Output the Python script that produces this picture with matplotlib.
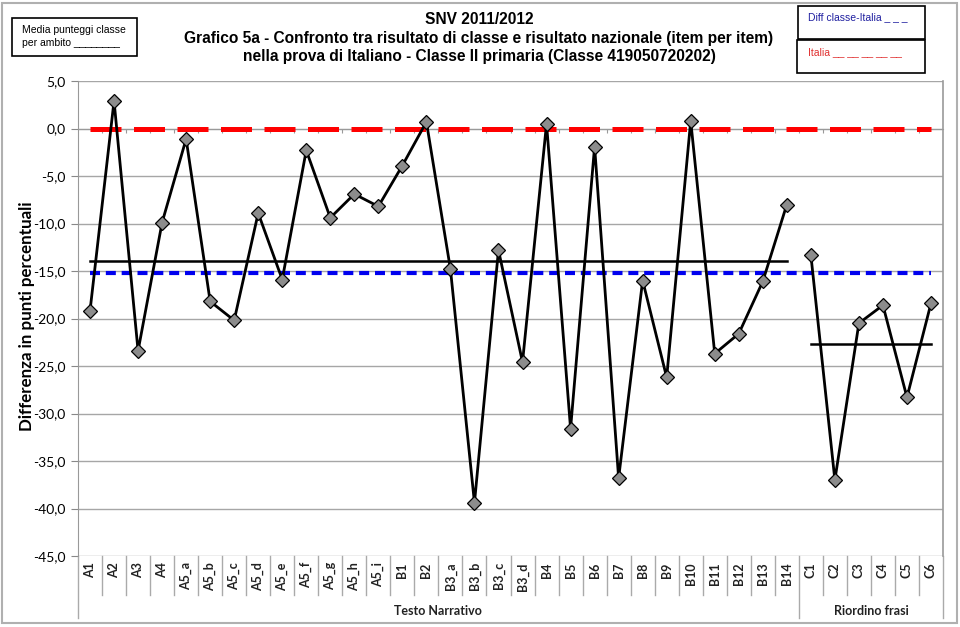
import numpy as np
import matplotlib.pyplot as plt
from matplotlib.patches import Rectangle

# item del test
items_a = ['A1', 'A2', 'A3', 'A4', 'A5_a', 'A5_b', 'A5_c', 'A5_d', 'A5_e', 'A5_f',
           'A5_g', 'A5_h', 'A5_i', 'B1', 'B2', 'B3_a', 'B3_b', 'B3_c', 'B3_d', 'B4',
           'B5', 'B6', 'B7', 'B8', 'B9', 'B10', 'B11', 'B12', 'B13', 'B14']
items_c = ['C1', 'C2', 'C3', 'C4', 'C5', 'C6']
items = items_a + items_c

# differenza classe - Italia per item
diff_a = [-19.2, 2.9, -23.4, -9.9, -1.1, -18.2, -20.2, -8.9, -15.9, -2.3,
          -9.4, -6.9, -8.2, -3.9, 0.7, -14.8, -39.4, -12.8, -24.6, 0.5,
          -31.6, -1.9, -36.8, -16.0, -26.2, 0.8, -23.7, -21.6, -16.1, -8.0]
diff_c = [-13.3, -37.0, -20.5, -18.6, -28.3, -18.4]

# media per ambito, media complessiva, riferimento Italia
media_ambito = [-13.9, -22.7]
ambiti = ['Testo Narrativo', 'Riordino frasi']
media_diff = -15.2
italia = 0.0

yticks = [5, 0, -5, -10, -15, -20, -25, -30, -35, -40, -45]

lab_font = ['Lato', 'DejaVu Sans']
arial = ['Liberation Sans', 'DejaVu Sans']

fig = plt.figure(figsize=(9.6, 6.27), dpi=100)
ax = fig.add_axes([78 / 960, 1 - 556 / 627, 865 / 960, 475 / 627])

x = np.arange(len(items))
xa = x[:len(items_a)]
xc = x[len(items_a):]

# linee di riferimento
ax.plot([x[0], x[-1]], [italia, italia], color='#ff0000', lw=3.6,
        linestyle=(0, (6.2, 2.5)), zorder=3)
ax.plot([x[0], x[-1]], [media_diff, media_diff], color='#0000ee', lw=3.0,
        linestyle=(0, (2.4, 1.4)), zorder=3)

# media per ambito
ax.plot([xa[0], xa[-1]], [media_ambito[0]] * 2, color='black', lw=1.8, zorder=4)
ax.plot([xc[0], xc[-1]], [media_ambito[1]] * 2, color='black', lw=1.8, zorder=4)

# serie per item
for xs, ys in [(xa, diff_a), (xc, diff_c)]:
    ax.plot(xs, ys, color='black', lw=2, marker='D', markersize=6.8,
            markerfacecolor='#8c8c8c', markeredgecolor='black',
            markeredgewidth=0.9, zorder=5)

ax.set_xlim(-0.5, len(items) - 0.5)
ax.set_ylim(-45, 5)
ax.set_yticks(yticks)
ax.set_yticklabels([('%.1f' % v).replace('.', ',') for v in yticks],
                   family=lab_font, fontsize=10)
ax.yaxis.grid(True, color='#a6a6a6', lw=1)
ax.set_axisbelow(True)
ax.tick_params(axis='y', length=5, color='#888888', pad=4)

# asse x sullo zero
bounds = np.arange(-0.5, len(items) + 0.5, 1)
ax.spines['bottom'].set_position(('data', 0))
ax.spines['bottom'].set_color('#999999')
ax.set_xticks(bounds[1:-1])
ax.tick_params(axis='x', length=3, color='#999999', labelbottom=False)
ax.spines['top'].set_visible(False)
ax.spines['right'].set_visible(False)
ax.spines['left'].set_color('#999999')

# etichette categorie sotto il grafico
tr = ax.get_xaxis_transform()
for i, name in enumerate(items):
    ax.text(i, -0.013, name, transform=tr, rotation=90, ha='center', va='top',
            fontsize=9, fontweight='bold', family=lab_font, color='#222222')
long_b = [-0.5, len(items_a) - 0.5, len(items) - 0.5]
for b in bounds:
    low = -0.13 if b in long_b else -0.082
    ax.plot([b, b], [0, low], transform=tr, color='#aaaaaa', lw=1, clip_on=False)
ax.plot([bounds[-1], bounds[-1]], [0, 1], transform=tr, color='#999999', lw=1.2, clip_on=False)
centers = [(xa[0] + xa[-1]) / 2, (xc[0] + xc[-1]) / 2]
for cx, name in zip(centers, ambiti):
    ax.text(cx, -0.116, name, transform=tr, ha='center', va='center',
            fontsize=9, fontweight='bold', family=lab_font, color='#222222')

fig.text(27 / 960, 1 - 316 / 627, 'Differenza in punti percentuali', rotation=90,
         ha='center', va='center', fontsize=12.2, fontweight='bold', family=lab_font)

# titolo
fig.text(479 / 960, 1 - 19 / 627, 'SNV 2011/2012', ha='center', va='center',
         fontsize=11.2, fontweight='bold', family=arial)
fig.text(479 / 960, 1 - 39 / 627,
         'Grafico 5a - Confronto tra risultato di classe e risultato nazionale (item per item)',
         ha='center', va='center', fontsize=11.2, fontweight='bold', family=arial)
fig.text(479 / 960, 1 - 56 / 627,
         'nella prova di Italiano - Classe II primaria (Classe 419050720202)',
         ha='center', va='center', fontsize=11.2, fontweight='bold', family=arial)

# riquadri legenda
def box(x0, y0, x1, y1):
    fig.patches.append(Rectangle((x0 / 960, 1 - y1 / 627), (x1 - x0) / 960, (y1 - y0) / 627,
                                 transform=fig.transFigure, fill=False, ec='black', lw=1.2))

box(12, 18, 137, 56)
fig.text(22 / 960, 1 - 30 / 627, 'Media punteggi classe', fontsize=7.5, family=arial, va='center')
fig.text(22 / 960, 1 - 43 / 627, 'per ambito ________', fontsize=7.5, family=arial, va='center')
box(798, 6, 925, 39)
fig.text(808 / 960, 1 - 17 / 627, 'Diff classe-Italia _ _ _', fontsize=7.5, family=arial,
         va='center', color='#1f1fa0')
box(797, 40, 925, 73)
fig.text(808 / 960, 1 - 52 / 627, 'Italia __ __ __ __ __', fontsize=7.5, family=arial,
         va='center', color='#e03030')

# bordo esterno
fig.patches.append(Rectangle((2 / 960, 1 - 623 / 627), 955 / 960, 620 / 627,
                             transform=fig.transFigure, fill=False, ec='#b0b0b0', lw=1.5))

fig.savefig('out.png', dpi=100)
